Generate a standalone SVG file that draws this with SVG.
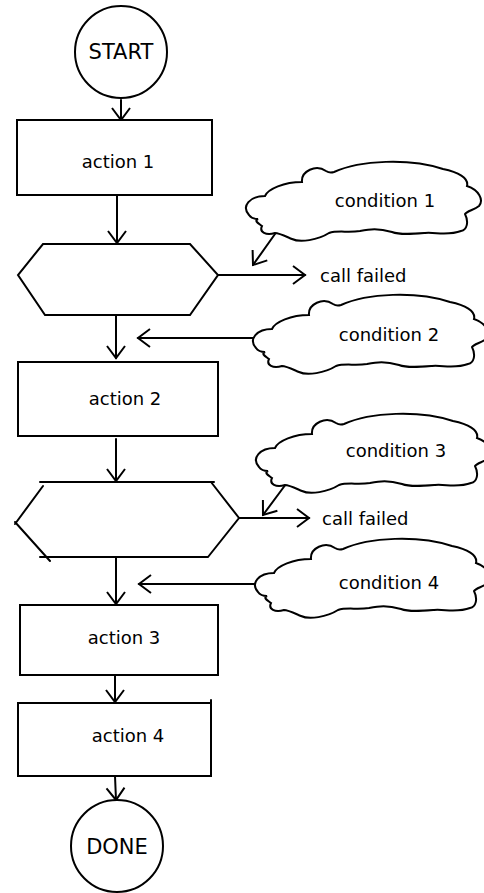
<svg xmlns="http://www.w3.org/2000/svg" width="484" height="893" viewBox="0 0 484 893">
<style>
.s{fill:#fff;stroke:#000;stroke-width:2}
.e{fill:none;stroke:#000;stroke-width:2;stroke-linecap:round}
text{font-family:"DejaVu Sans","Liberation Sans",sans-serif;font-size:18px;fill:#000}
.m{text-anchor:middle}
.big{font-size:21px}
</style>
<defs>
<marker id="ah" markerUnits="userSpaceOnUse" markerWidth="16" markerHeight="22" viewBox="-2 -11 16 22" refX="12" refY="0" orient="auto">
<path d="M0,-9 L12,0 L0,9" fill="none" stroke="#000" stroke-width="2"/>
</marker>
<path id="cloud" d="M249,215 C241,206 250,196 265,196 C268,189 284,182 302,182 C301,171 316,164 326,171 C329,173 331,173 334,172 C360,160 410,158 443,169 C458,172 469,178 467,186 C479,190 484,200 479,206 C474,210 467,211 465,214 C469,222 467,230 461,231 C448,236 435,232 425,233 C412,234 400,235 392,232 C378,228 370,229 360,231 C348,233 338,230 329,233 C318,240 300,243 292,239 C285,236 279,233 275,233 C266,236 259,232 262,226 C258,223 254,221 258,219 C254,219 251,218 249,215 Z"/>
</defs>

<g id="connectors">
<line class="e" x1="121" y1="100" x2="121" y2="120" marker-end="url(#ah)"/>
<line class="e" x1="117" y1="195" x2="117" y2="243" marker-end="url(#ah)"/>
<line class="e" x1="218" y1="275" x2="305" y2="275" marker-end="url(#ah)"/>
<line class="e" x1="275" y1="234" x2="253" y2="265" marker-end="url(#ah)"/>
<line class="e" x1="116" y1="315" x2="116" y2="358" marker-end="url(#ah)"/>
<line class="e" x1="258" y1="338" x2="138" y2="338" marker-end="url(#ah)"/>
<line class="e" x1="116" y1="439" x2="116" y2="481" marker-end="url(#ah)"/>
<line class="e" x1="239" y1="518" x2="309" y2="518" marker-end="url(#ah)"/>
<line class="e" x1="286" y1="484" x2="263" y2="515" marker-end="url(#ah)"/>
<line class="e" x1="116" y1="557" x2="116" y2="604" marker-end="url(#ah)"/>
<line class="e" x1="258" y1="584" x2="139" y2="584" marker-end="url(#ah)"/>
<line class="e" x1="115" y1="675" x2="115" y2="702" marker-end="url(#ah)"/>
<line class="e" x1="115" y1="776" x2="116" y2="800" marker-end="url(#ah)"/>
</g>

<g id="start">
<circle class="s" cx="121" cy="52" r="46"/>
<text class="m big" x="121" y="59">START</text>
</g>

<g id="action1">
<rect class="s" x="17" y="120" width="195" height="75"/>
<text class="m" x="118" y="168">action 1</text>
</g>

<g id="decision1">
<polygon class="s" points="43,244 190,244 218,275 190,315 45,315 18,275"/>
</g>

<g id="condition1">
<use href="#cloud" class="s"/>
<text class="m" x="385" y="207">condition 1</text>
</g>
<g id="fail1"><text x="320" y="282">call failed</text></g>

<g id="condition2">
<use href="#cloud" class="s" transform="translate(7,133)"/>
<text class="m" x="389" y="341">condition 2</text>
</g>

<g id="action2">
<rect class="s" x="18" y="362" width="200" height="74"/>
<text class="m" x="125" y="405">action 2</text>
</g>

<g id="decision2">
<polygon points="43,482 211,482 239,518 208,557 45,557 15,524" fill="#fff"/>
<path class="e" d="M40,482 L214,482 M43,486 L15,524 M15,522 L50,561 M40,557 L208,557 M211,482 L239,518 L208,557"/>
</g>

<g id="condition3">
<use href="#cloud" class="s" transform="translate(10,252)"/>
<text class="m" x="396" y="457">condition 3</text>
</g>
<g id="fail2"><text x="322" y="525">call failed</text></g>

<g id="condition4">
<use href="#cloud" class="s" transform="translate(9,377)"/>
<text class="m" x="389" y="589">condition 4</text>
</g>

<g id="action3">
<rect class="s" x="20" y="605" width="198" height="70"/>
<text class="m" x="124" y="644">action 3</text>
</g>

<g id="action4">
<rect class="s" x="18" y="703" width="193" height="73"/>
<line class="e" x1="211" y1="700" x2="211" y2="703"/>
<text class="m" x="128" y="742">action 4</text>
</g>

<g id="done">
<circle class="s" cx="117" cy="846" r="46"/>
<text class="m big" x="117" y="854">DONE</text>
</g>
</svg>
